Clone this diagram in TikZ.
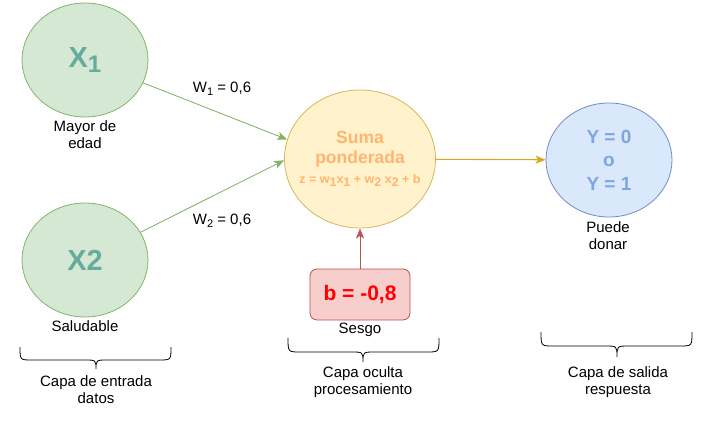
\documentclass[tikz,border=0pt]{standalone}
\usepackage{fontspec}
\setmainfont{Liberation Sans}
\usetikzlibrary{shapes.geometric,arrows.meta}
\definecolor{gfill}{HTML}{D5E8D4}
\definecolor{gline}{HTML}{82B366}
\definecolor{gtext}{HTML}{67AB9F}
\definecolor{yfill}{HTML}{FFF2CC}
\definecolor{yline}{HTML}{D6B656}
\definecolor{ytext}{HTML}{FFB570}
\definecolor{oarrow}{HTML}{DAA520}
\definecolor{bfill}{HTML}{DAE8FC}
\definecolor{bline}{HTML}{6C8EBF}
\definecolor{btext}{HTML}{7EA6E0}
\definecolor{rfill}{HTML}{F8CECC}
\definecolor{rline}{HTML}{B85450}
\newcommand{\lowsub}[2]{\raisebox{-#2}{#1}}
\begin{document}
\begin{tikzpicture}[x=1pt,y=-1pt,
  innode/.style={ellipse,draw=gline,fill=gfill,line width=0.8pt,minimum width=126pt,minimum height=114pt,inner sep=0pt,text=gtext,font=\bfseries\fontsize{29}{30}\selectfont},
  sumnode/.style={ellipse,draw=yline,fill=yfill,line width=0.8pt,minimum width=151pt,minimum height=138pt,inner sep=0pt},
  sumtextstyle/.style={inner sep=0pt,text=ytext,align=center,font=\bfseries\fontsize{17.5}{20}\selectfont},
  outnode/.style={ellipse,draw=bline,fill=bfill,line width=0.8pt,minimum width=126pt,minimum height=114pt,inner sep=0pt,text=btext,align=center,font=\bfseries\fontsize{19}{23.5}\selectfont},
  biasnode/.style={rectangle,rounded corners=7pt,draw=rline,fill=rfill,line width=0.8pt,minimum width=100pt,minimum height=51pt,inner sep=0pt,text=red,font=\bfseries\fontsize{21}{24}\selectfont},
  lbl/.style={inner sep=0pt,align=center,text=black,font=\fontsize{15}{17}\selectfont},
  conn/.style={line width=0.8pt,-{Stealth[length=10pt,width=8pt,inset=2.5pt]}},
  bracestyle/.style={draw=black,line width=0.8pt}
]
\useasboundingbox (0,0) rectangle (702,428);

% nodes
\node[innode] (x1) at (85,60) {X\lowsub{\fontsize{24}{24}\selectfont 1}{5pt}};
\node[innode] (x2) at (85,260) {X2};
\node[sumnode] (sum) at (360,159) {};
\node[sumtextstyle] (sumtext) at (sum.center) {Suma\\ponderada\\{\fontsize{12.5}{20}\selectfont z = w\lowsub{1}{3pt}x\lowsub{1}{3pt} + w\lowsub{2}{3pt} x\lowsub{2}{3pt} + b}};
\node[outnode] (out) at (609,160) {Y = 0\\o\\Y = 1};
\node[biasnode] (bias) at (360,294.5) {b = -0,8};

% labels
\node[lbl] (lx1) at (85,135) {Mayor de\\edad};
\node[lbl] (lx2) at (85,326) {Saludable};
\node[lbl] (lw1) at (222,89) {W\lowsub{\fontsize{11}{11}\selectfont 1}{3pt} = 0,6};
\node[lbl] (lw2) at (222,221) {W\lowsub{\fontsize{11}{11}\selectfont 2}{3pt} = 0,6};
\node[lbl] (lout) at (608,235.5) {Puede\\donar};
\node[lbl] (lbias) at (360,330) {Sesgo};
\node[lbl] (lin) at (96,390) {Capa de entrada\\datos};
\node[lbl] (lhid) at (363,382) {Capa oculta\\procesamiento};
\node[lbl] (lres) at (618,382) {Capa de salida\\respuesta};

% connectors
\draw[conn,draw=gline,fill=gline] (x1) -- (sum.165);
\draw[conn,draw=gline,fill=gline] (x2) -- (sum.181);
\draw[conn,draw=oarrow,fill=oarrow,line width=1.1pt] (sum) -- (out);
\draw[conn,draw=rline,fill=rline] (bias) -- (sum);

% braces
\draw[bracestyle] (20,347) .. controls (20,360) .. (32,360) -- (84,360) .. controls (96,360) .. (96,369)
  .. controls (96,360) .. (108,360) -- (159,360) .. controls (171,360) .. (171,347);
\draw[bracestyle] (288,338) .. controls (288,352) .. (300,352) -- (351,352) .. controls (363,352) .. (363,362)
  .. controls (363,352) .. (375,352) -- (427,352) .. controls (439,352) .. (439,338);
\draw[bracestyle] (541,332) .. controls (541,346) .. (553,346) -- (605,346) .. controls (617,346) .. (617,357)
  .. controls (617,346) .. (629,346) -- (680,346) .. controls (692,346) .. (692,332);
\end{tikzpicture}
\end{document}
